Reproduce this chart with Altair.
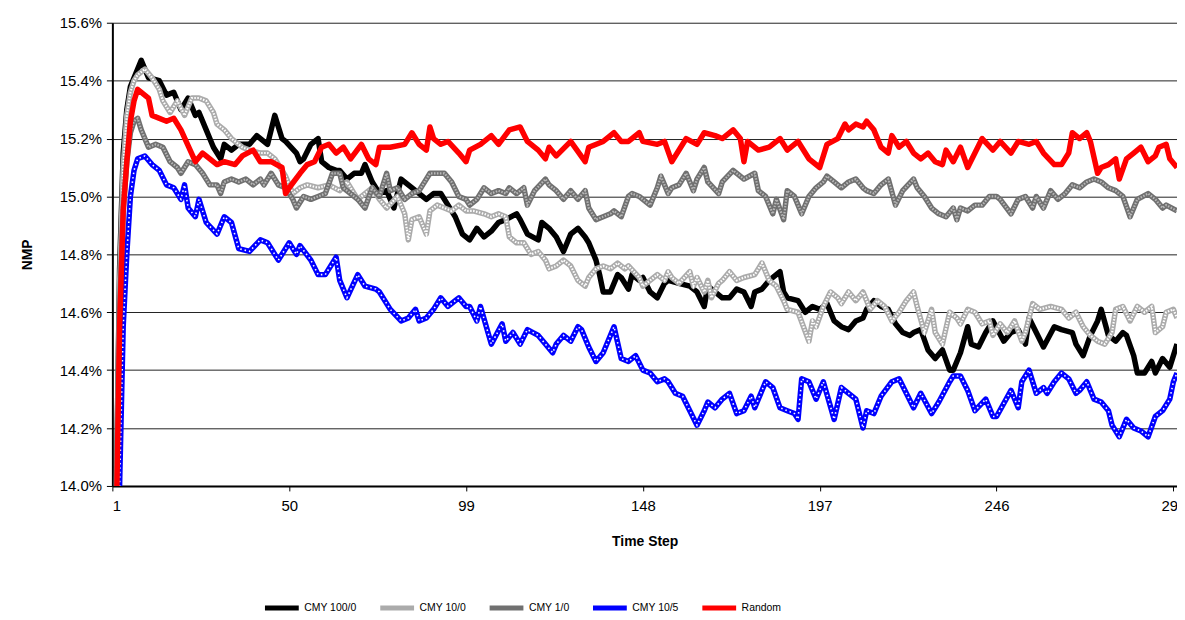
import altair as alt
import pandas as pd

SERIES = ["CMY 100/0", "CMY 10/0", "CMY 1/0", "CMY 10/5", "Random"]
COLORS = ["#000000", "#ababab", "#707070", "#0000ff", "#ff0000"]
X_TICKS = [1, 50, 99, 148, 197, 246, 295]
Y_TICKS = [14.0, 14.2, 14.4, 14.6, 14.8, 15.0, 15.2, 15.4, 15.6]

# (time step, NMP %)
cmy_100_0 = [(1,12.0),(2,13.9),(3,14.75),(4,15.15),(5,15.30),(6,15.38),(7,15.41),(9,15.47),(11,15.41),(14,15.40),(16,15.35),(18,15.36),(20,15.30),(22,15.34),(24,15.28),(25,15.29),(27,15.23),(29,15.17),(31,15.13),(32,15.18),(34,15.16),(36,15.18),(39,15.18),(41,15.21),(44,15.18),(46,15.28),(48,15.20),(49,15.19),(52,15.15),(53,15.12),(54,15.13),(56,15.18),(58,15.20),(59,15.12),(61,15.10),(63,15.09),(64,15.09),(66,15.06),(68,15.08),(70,15.08),(71,15.11),(73,15.05),(75,15.01),(77,15.02),(79,14.96),(81,15.06),(83,15.04),(85,15.02),(88,14.99),(90,15.01),(92,15.01),(94,14.97),(96,14.93),(98,14.87),(100,14.85),(102,14.89),(104,14.86),(106,14.88),(108,14.91),(110,14.92),(113,14.94),(114,14.92),(116,14.87),(119,14.85),(120,14.91),(122,14.89),(124,14.86),(126,14.81),(128,14.87),(130,14.89),(132,14.86),(133,14.84),(135,14.78),(136,14.73),(137,14.67),(139,14.67),(141,14.73),(142,14.72),(144,14.68),(145,14.73),(147,14.71),(148,14.72),(150,14.67),(152,14.65),(154,14.70),(155,14.71),(158,14.70),(161,14.69),(163,14.67),(165,14.62),(166,14.69),(168,14.67),(170,14.65),(172,14.65),(174,14.68),(176,14.67),(178,14.62),(179,14.67),(181,14.68),(183,14.71),(186,14.74),(187,14.67),(188,14.65),(191,14.64),(193,14.60),(195,14.62),(197,14.61),(199,14.63),(201,14.57),(203,14.55),(205,14.54),(207,14.57),(209,14.58),(210,14.61),(212,14.64),(214,14.62),(216,14.61),(218,14.56),(220,14.53),(222,14.52),(223,14.53),(225,14.54),(227,14.47),(229,14.44),(231,14.47),(233,14.40),(234,14.40),(236,14.46),(238,14.55),(239,14.49),(241,14.48),(243,14.53),(245,14.57),(248,14.50),(250,14.53),(252,14.54),(254,14.49),(255,14.58),(257,14.53),(259,14.48),(262,14.55),(264,14.54),(267,14.53),(268,14.49),(270,14.45),(272,14.52),(274,14.57),(275,14.61),(277,14.52),(279,14.50),(281,14.53),(282,14.52),(284,14.45),(285,14.39),(287,14.39),(289,14.43),(290,14.39),(292,14.44),(294,14.41),(295,14.45),(296,14.49)]

cmy_10_0 = [(1,12.0),(2,13.9),(3,14.7),(4,15.1),(5,15.28),(6,15.36),(7,15.40),(8,15.42),(10,15.44),(12,15.41),(14,15.37),(15,15.33),(17,15.29),(19,15.33),(21,15.28),(23,15.34),(25,15.34),(27,15.33),(29,15.29),(30,15.25),(32,15.23),(34,15.20),(37,15.17),(39,15.16),(42,15.15),(44,15.15),(46,15.13),(49,15.07),(51,15.01),(53,15.03),(55,15.04),(58,15.03),(61,15.04),(64,15.02),(66,15.05),(69,14.99),(71,15.01),(73,15.03),(75,14.99),(77,14.96),(80,15.00),(82,14.94),(83,14.85),(84,14.92),(86,14.93),(88,14.87),(89,14.95),(91,14.97),(93,14.96),(95,14.95),(97,14.97),(99,14.95),(101,14.95),(104,14.94),(106,14.93),(108,14.94),(110,14.93),(111,14.86),(113,14.84),(115,14.84),(117,14.80),(119,14.81),(121,14.78),(122,14.75),(124,14.76),(126,14.78),(128,14.76),(130,14.71),(132,14.69),(133,14.72),(135,14.75),(137,14.76),(139,14.75),(141,14.77),(143,14.75),(144,14.76),(147,14.72),(148,14.69),(150,14.71),(152,14.73),(154,14.71),(155,14.74),(156,14.72),(158,14.70),(161,14.74),(162,14.69),(163,14.72),(165,14.67),(166,14.71),(167,14.65),(169,14.70),(170,14.71),(172,14.74),(174,14.71),(176,14.72),(179,14.73),(181,14.77),(183,14.71),(185,14.69),(187,14.64),(188,14.61),(191,14.60),(194,14.50),(195,14.57),(196,14.55),(198,14.62),(200,14.67),(202,14.65),(203,14.63),(205,14.67),(207,14.64),(209,14.67),(210,14.64),(211,14.61),(213,14.64),(215,14.62),(217,14.57),(219,14.60),(221,14.64),(223,14.67),(224,14.62),(226,14.53),(228,14.61),(229,14.53),(231,14.49),(233,14.60),(235,14.58),(236,14.56),(238,14.61),(240,14.60),(242,14.56),(244,14.57),(245,14.52),(247,14.56),(249,14.53),(251,14.57),(253,14.50),(254,14.53),(256,14.63),(258,14.61),(261,14.62),(264,14.61),(266,14.58),(268,14.60),(270,14.55),(272,14.52),(274,14.50),(276,14.49),(278,14.53),(279,14.61),(281,14.62),(283,14.57),(285,14.62),(287,14.60),(289,14.62),(290,14.53),(292,14.55),(293,14.60),(295,14.61),(296,14.58)]

cmy_1_0 = [(1,12.0),(2,13.8),(3,14.6),(4,14.95),(5,15.12),(6,15.22),(7,15.26),(8,15.27),(9,15.23),(11,15.17),(13,15.18),(15,15.17),(17,15.12),(19,15.10),(20,15.08),(22,15.12),(24,15.11),(26,15.08),(28,15.04),(30,15.04),(31,15.01),(32,15.05),(34,15.06),(36,15.05),(38,15.06),(40,15.04),(42,15.06),(43,15.04),(45,15.08),(47,15.04),(49,15.03),(51,14.99),(52,14.96),(54,15.00),(56,14.99),(58,15.00),(60,15.01),(62,15.08),(64,15.08),(65,15.03),(67,15.01),(69,14.99),(71,14.96),(73,15.03),(75,15.00),(77,15.08),(78,15.02),(80,15.03),(82,14.99),(84,15.01),(86,15.02),(88,15.06),(89,15.08),(91,15.08),(93,15.08),(95,15.05),(97,15.00),(99,14.99),(100,14.97),(102,14.99),(104,15.03),(106,15.01),(108,15.02),(110,15.01),(111,15.03),(113,15.01),(115,15.03),(116,14.97),(118,15.02),(121,15.06),(122,15.04),(124,15.02),(126,14.99),(128,15.02),(130,14.99),(132,15.02),(133,14.96),(135,14.92),(137,14.93),(139,14.94),(140,14.95),(142,14.93),(144,15.00),(145,15.01),(147,15.00),(148,14.99),(150,14.97),(152,15.03),(153,15.07),(155,15.01),(156,15.03),(158,15.04),(160,15.08),(162,15.02),(163,15.06),(165,15.10),(166,15.05),(169,15.01),(170,15.05),(173,15.09),(176,15.06),(179,15.08),(180,15.02),(182,15.00),(184,14.94),(185,14.99),(187,14.92),(188,15.02),(190,15.00),(192,14.94),(194,15.00),(196,15.03),(198,15.05),(199,15.07),(201,15.05),(203,15.03),(205,15.05),(207,15.06),(209,15.03),(210,15.02),(212,15.01),(214,15.04),(216,15.06),(218,14.97),(220,15.02),(223,15.06),(224,15.03),(226,15.00),(228,14.96),(230,14.94),(232,14.93),(234,14.96),(235,14.92),(236,14.96),(238,14.95),(240,14.97),(242,14.97),(244,15.00),(246,15.00),(247,14.99),(250,14.94),(252,14.99),(254,15.00),(256,14.96),(257,15.00),(259,14.96),(261,15.02),(263,14.99),(265,15.01),(267,15.04),(269,15.03),(271,15.05),(273,15.06),(275,15.05),(277,15.03),(279,15.02),(281,15.00),(283,14.93),(285,14.99),(288,15.01),(290,14.99),(292,14.96),(293,14.97),(296,14.95)]

cmy_10_5 = [(1,11.0),(2,13.0),(3,14.0),(4,14.55),(5,14.8),(6,15.0),(7,15.09),(8,15.13),(10,15.14),(12,15.11),(14,15.09),(16,15.04),(18,15.03),(20,14.99),(21,15.04),(22,14.96),(24,14.93),(25,14.99),(27,14.91),(30,14.87),(32,14.93),(34,14.91),(36,14.82),(39,14.81),(42,14.85),(44,14.84),(47,14.78),(49,14.82),(50,14.84),(52,14.80),(53,14.83),(56,14.78),(58,14.73),(60,14.73),(63,14.79),(64,14.71),(66,14.65),(69,14.73),(71,14.69),(74,14.68),(75,14.67),(78,14.61),(81,14.57),(83,14.58),(85,14.61),(86,14.57),(88,14.58),(90,14.61),(92,14.65),(94,14.62),(96,14.64),(97,14.65),(99,14.62),(100,14.62),(102,14.57),(103,14.62),(106,14.49),(109,14.56),(110,14.50),(112,14.53),(114,14.49),(116,14.54),(119,14.52),(121,14.49),(123,14.46),(124,14.49),(126,14.52),(128,14.50),(130,14.55),(131,14.54),(133,14.48),(135,14.43),(137,14.46),(140,14.55),(142,14.44),(144,14.43),(146,14.45),(148,14.40),(150,14.39),(152,14.36),(154,14.37),(155,14.36),(157,14.32),(159,14.31),(161,14.26),(163,14.21),(165,14.26),(166,14.29),(168,14.27),(170,14.30),(172,14.32),(174,14.25),(176,14.26),(178,14.31),(179,14.27),(182,14.36),(184,14.34),(186,14.27),(188,14.26),(190,14.25),(191,14.23),(192,14.37),(194,14.36),(196,14.30),(198,14.36),(201,14.23),(203,14.34),(205,14.32),(207,14.30),(209,14.20),(210,14.26),(212,14.25),(214,14.31),(217,14.36),(219,14.37),(221,14.32),(223,14.27),(225,14.32),(228,14.25),(230,14.29),(233,14.36),(234,14.38),(236,14.38),(238,14.33),(240,14.26),(243,14.30),(245,14.24),(246,14.24),(250,14.33),(252,14.27),(253,14.36),(255,14.40),(257,14.32),(259,14.34),(260,14.32),(262,14.36),(264,14.39),(266,14.37),(268,14.32),(269,14.33),(271,14.36),(273,14.30),(275,14.29),(277,14.26),(278,14.21),(280,14.17),(282,14.23),(284,14.20),(286,14.19),(288,14.17),(290,14.24),(292,14.26),(294,14.30),(295,14.36),(296,14.39)]

random_ = [(1,12.0),(2,13.8),(3,14.55),(4,14.95),(5,15.12),(6,15.26),(7,15.33),(8,15.37),(11,15.34),(12,15.28),(16,15.26),(18,15.27),(20,15.23),(24,15.12),(26,15.15),(30,15.11),(32,15.12),(35,15.11),(37,15.14),(40,15.16),(42,15.12),(45,15.12),(48,15.10),(49,15.01),(50,15.03),(53,15.08),(55,15.11),(57,15.12),(59,15.17),(61,15.18),(63,15.15),(65,15.17),(67,15.13),(70,15.18),(72,15.13),(74,15.11),(75,15.17),(78,15.17),(82,15.18),(84,15.22),(86,15.18),(88,15.16),(89,15.24),(90,15.20),(92,15.18),(94,15.19),(97,15.15),(99,15.12),(100,15.16),(103,15.18),(106,15.21),(108,15.18),(111,15.23),(114,15.24),(116,15.19),(119,15.16),(121,15.13),(122,15.17),(124,15.14),(128,15.19),(132,15.12),(133,15.17),(137,15.19),(140,15.22),(142,15.19),(144,15.19),(147,15.22),(148,15.19),(152,15.18),(154,15.19),(156,15.12),(160,15.20),(163,15.18),(165,15.22),(168,15.21),(170,15.20),(173,15.23),(175,15.20),(176,15.12),(177,15.19),(180,15.16),(183,15.17),(186,15.20),(188,15.16),(191,15.19),(194,15.13),(197,15.10),(199,15.18),(202,15.20),(204,15.25),(205,15.23),(207,15.25),(209,15.24),(210,15.26),(212,15.23),(214,15.17),(216,15.15),(217,15.21),(219,15.17),(221,15.19),(223,15.15),(225,15.13),(227,15.15),(229,15.12),(231,15.11),(232,15.16),(234,15.12),(236,15.17),(238,15.10),(240,15.15),(242,15.20),(245,15.16),(247,15.19),(250,15.15),(252,15.19),(255,15.18),(257,15.19),(259,15.15),(262,15.11),(264,15.11),(266,15.15),(267,15.22),(269,15.20),(271,15.22),(272,15.19),(274,15.08),(275,15.10),(277,15.11),(279,15.13),(280,15.06),(282,15.13),(284,15.15),(286,15.17),(288,15.12),(290,15.14),(291,15.17),(293,15.18),(294,15.13),(296,15.10)]

ALL = [cmy_100_0, cmy_10_0, cmy_1_0, cmy_10_5, random_]

rows = []
for name, pts in zip(SERIES, ALL):
    for s, v in pts:
        rows.append({"series": name, "step": s, "nmp": v})
df = pd.DataFrame(rows)

FONT = "Liberation Sans"

x_enc = alt.X(
    "step:Q",
    scale=alt.Scale(domain=[1, 296], nice=False, zero=False),
    axis=alt.Axis(
        values=X_TICKS, title="Time Step", grid=False,
        labelFont=FONT, labelFontSize=15, labelColor="#000", labelPadding=8,
        tickColor="#000", tickSize=5, tickWidth=1,
        domainColor="#000", domainWidth=2,
        titleFont=FONT, titleFontSize=14, titleFontWeight="bold", titleColor="#000",
        titlePadding=21,
    ),
)
y_enc = alt.Y(
    "nmp:Q",
    scale=alt.Scale(domain=[14.0, 15.6], nice=False, zero=False),
    axis=alt.Axis(
        values=Y_TICKS, title="NMP",
        labelExpr="format(datum.value, '.1f') + '%'",
        labelFont=FONT, labelFontSize=15, labelColor="#000", labelPadding=5,
        tickColor="#000", tickSize=6, tickWidth=1,
        domainColor="#000", domainWidth=2,
        grid=True, gridColor="#222", gridWidth=1,
        titleFont=FONT, titleFontSize=14, titleFontWeight="bold", titleColor="#000",
        titleAngle=270, titleX=-85, titleY=233, titleAlign="center", titleBaseline="middle",
    ),
)
color_enc = alt.Color(
    "series:N",
    scale=alt.Scale(domain=SERIES, range=COLORS),
    legend=alt.Legend(
        title=None, orient="none", legendX=151, legendY=569, direction="horizontal",
        columns=5, symbolType="stroke", symbolStrokeWidth=5, symbolSize=1156,
        labelFont=FONT, labelFontSize=10.5,
        labelColor="#000", columnPadding=13, labelOffset=3,
    ),
)

OVERLAYS = {
    "CMY 10/0": ("#ffffff", [1.5, 1.5], 2.2),
    "CMY 1/0": ("#b8b8b8", [1.5, 1.5], 2.2),
    "CMY 10/5": ("#ffffff", [1.5, 3], 1.6),
}

base = alt.Chart(df)
layers = []
for name in SERIES:
    sub = base.transform_filter(alt.datum.series == name)
    layers.append(
        sub.mark_line(strokeWidth=5.5, clip=True, strokeJoin="round").encode(
            x=x_enc, y=y_enc, color=color_enc
        )
    )
    if name in OVERLAYS:
        c, dash, w = OVERLAYS[name]
        layers.append(
            sub.mark_line(strokeWidth=w, clip=True, strokeDash=dash).encode(
                x=x_enc, y=y_enc, color=alt.value(c)
            )
        )

chart = (
    alt.layer(*layers)
    .properties(
        width=1071, height=466,
        autosize=alt.AutoSizeParams(type="none"),
        padding={"left": 105, "top": 13, "right": 0, "bottom": 130},
        background="white",
    )
    .configure_view(stroke=None)
)

chart.save("out.html", embed_options={"renderer": "svg", "actions": False})
